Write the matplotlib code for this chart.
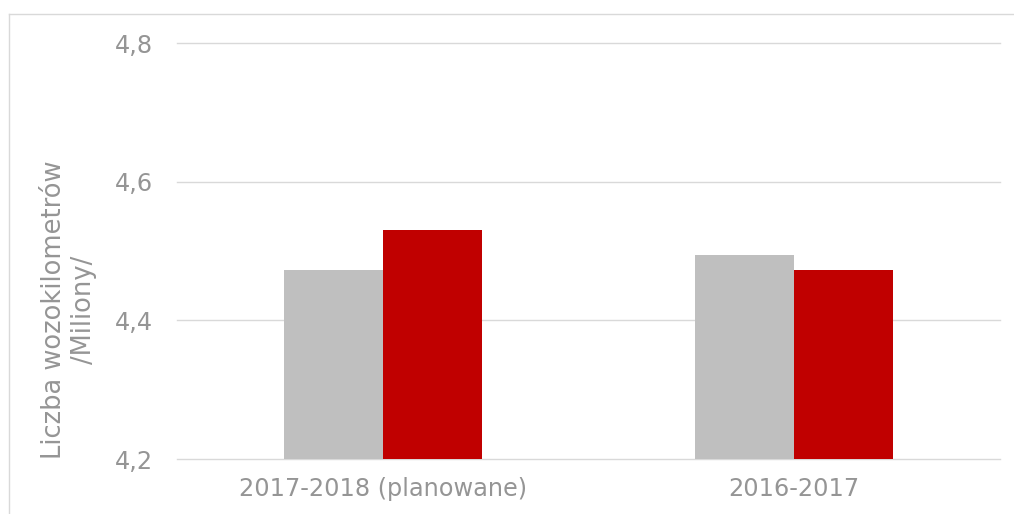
import matplotlib
matplotlib.use("Agg")
import matplotlib.pyplot as plt
from matplotlib.lines import Line2D
from matplotlib.ticker import FuncFormatter
import numpy as np

categories = ["2017-2018 (planowane)", "2016-2017"]
series_gray = [4.472, 4.494]
series_red = [4.531, 4.472]
yticks = [4.2, 4.4, 4.6, 4.8]

TEXT = "#959595"
GRID = "#D9D9D9"

fig = plt.figure(figsize=(10.14, 5.14), dpi=100)
fig.patch.set_facecolor("white")
ax = fig.add_axes([177/1014, 55/514, (1000-177)/1014, (459-43)/514])

x = np.arange(len(categories))
w = 0.24
ax.bar(x - w/2, series_gray, width=w, color="#BFBFBF", zorder=3)
ax.bar(x + w/2, series_red, width=w, color="#C00000", zorder=3)

ax.set_xlim(-0.5, 1.5)
ax.set_ylim(4.2, 4.8)
ax.set_yticks(yticks)
ax.yaxis.set_major_formatter(FuncFormatter(lambda v, p: f"{v:.1f}".replace(".", ",")))
ax.set_xticks(x)
ax.set_xticklabels(categories)
ax.grid(axis="y", color=GRID, linewidth=1.0, zorder=0)
for gl in ax.get_ygridlines():
    gl.set_clip_on(False)
for s in ax.spines.values():
    s.set_visible(False)
ax.tick_params(axis="both", length=0, labelsize=17.3, labelcolor=TEXT)
ax.tick_params(axis="y", pad=17)
ax.tick_params(axis="x", pad=13)

fig.text(69/1014, 1 - 310/514, "Liczba wozokilometrów\n/Miliony/", rotation=90,
         ha="center", va="center", multialignment="center", fontsize=18.5, color=TEXT,
         linespacing=1.2)

top = 1 - 13.5/514
left = 8.5/1014
fig.lines.append(Line2D([left, 1.0], [top, top], transform=fig.transFigure,
                        color=GRID, linewidth=1.0))
fig.lines.append(Line2D([left, left], [0.0, top], transform=fig.transFigure,
                        color=GRID, linewidth=1.0))

fig.savefig("out.png", dpi=100, facecolor="white")
